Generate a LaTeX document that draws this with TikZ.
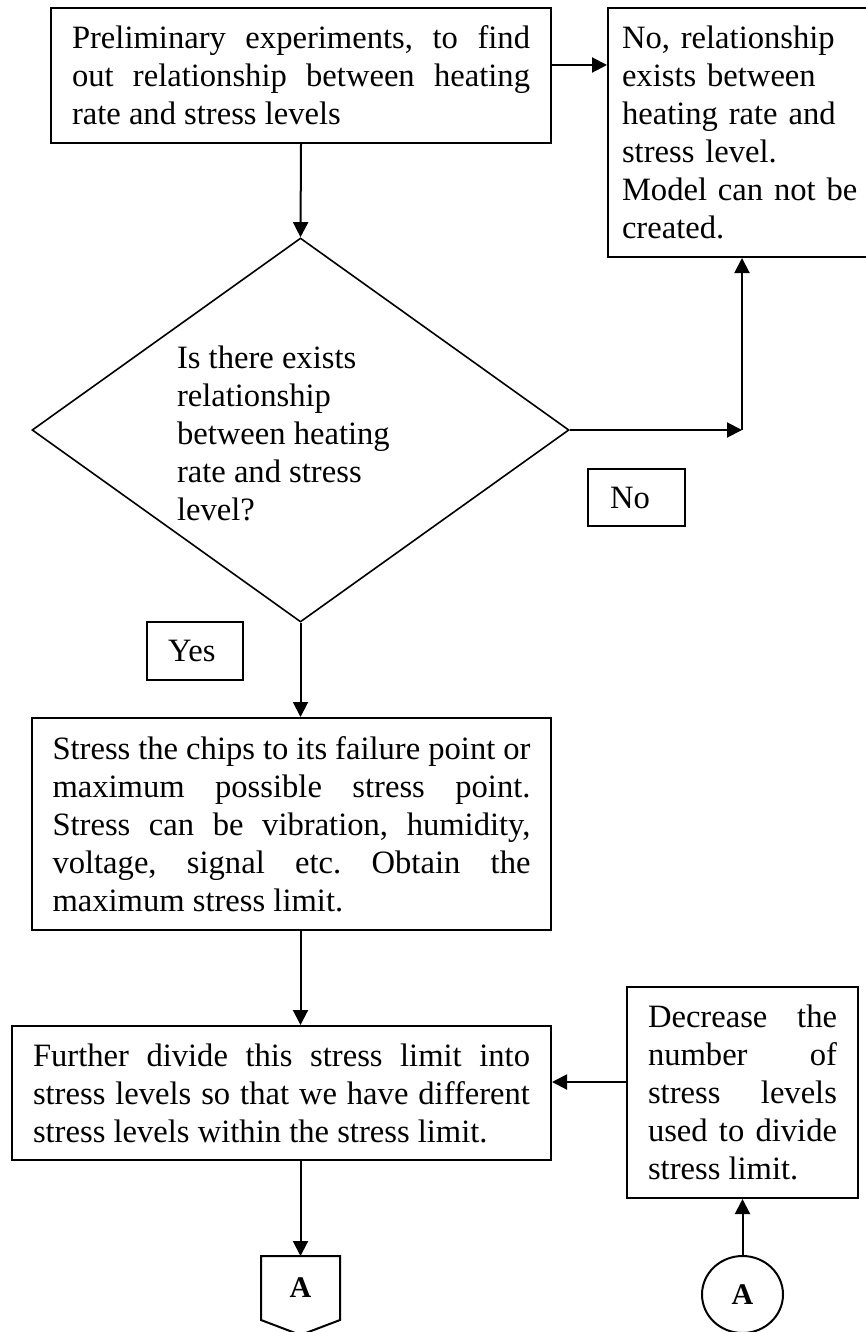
\documentclass[tikz,border=0pt]{standalone}
\usepackage{fontspec}
\setmainfont{Liberation Serif}
\usetikzlibrary{arrows.meta,shapes.geometric,calc}
\frenchspacing
\newcommand\bodyfont{\fontsize{16.3}{19}\selectfont}
\newcommand\justfont{\fontsize{16.3}{19}\selectfont\tolerance=10000\relax\hyphenpenalty=10000\relax}

\begin{document}
\begin{tikzpicture}[x=0.5pt,y=-0.5pt,
  line width=1pt,
  every node/.style={font=\bodyfont},
  arr/.style={-{Triangle[length=7.5pt,width=7.5pt]}},
  procbox/.style={draw, rectangle, inner ysep=0pt, align=justify, font=\justfont},
  notebox/.style={draw, rectangle, inner ysep=0pt, align=left},
  labelbox/.style={draw, rectangle, inner ysep=0pt, align=left},
  connfont/.style={font=\fontsize{15}{17}\selectfont\bfseries}
]
\useasboundingbox (0,0) rectangle (866,1332);
\fill[white] (0,0) rectangle (866,1332);
\clip (0,0) rectangle (866,1332);

% process boxes
\node[procbox, minimum width=250pt, minimum height=67.5pt, text width=229pt, inner xsep=10.5pt]
  (b1) at (301,75.5)
  {Preliminary experiments, to find\linebreak out relationship between heating\linebreak rate and stress levels};

\node[notebox, minimum width=134pt, minimum height=124.5pt, text width=120pt, inner xsep=7pt]
  (b2) at (742,132.5)
  {No, relationship\\ exists between\\ heating rate and\\ stress level.\\ Model can not be\\ created.};

\node[procbox, minimum width=259.5pt, minimum height=106pt, text width=239pt, inner xsep=10.25pt]
  (b3) at (291.5,824)
  {Stress the chips to its failure point or\linebreak maximum possible stress point.\linebreak Stress can be vibration, humidity,\linebreak voltage, signal etc. Obtain the\linebreak maximum stress limit.};

\node[procbox, minimum width=269.5pt, minimum height=67pt, text width=248.5pt, inner xsep=10.5pt]
  (b4) at (281.5,1093)
  {Further divide this stress limit into\linebreak stress levels so that we have different\linebreak stress levels within the stress limit.};

\node[procbox, minimum width=115.5pt, minimum height=105.5pt, text width=94.5pt, inner xsep=10.5pt]
  (b5) at (742.5,1092.5)
  {Decrease the\linebreak number of\linebreak stress levels\linebreak used to divide\linebreak stress limit.};

% decision
\node[draw, diamond, minimum width=268.5pt, minimum height=192pt, inner sep=0pt, line width=0.8pt]
  (dia) at (300.5,430) {};
\node[anchor=west, align=left, inner sep=0pt] (qtext) at (176,433.5)
  {Is there exists\\ relationship\\ between heating\\ rate and stress\\ level?};

% branch labels
\node[labelbox, minimum height=29pt, text width=27pt, inner xsep=10.5pt] (yes) at (195,651) {Yes};
\node[labelbox, minimum height=28.5pt, text width=26.5pt, inner xsep=11pt] (no) at (636.5,497.5) {No};

% connectors A
\node[connfont, minimum width=38.5pt, minimum height=31pt, inner sep=0pt] (offA) at (300.5,1288) {A};
\draw (offA.north west) -- (offA.north east) -- (offA.south east)
  -- ($(offA.south)+(0,15)$) -- (offA.south west) -- cycle;
\node[connfont, draw, ellipse, minimum width=40.5pt, minimum height=38.5pt, inner sep=0pt]
  (circA) at (742.5,1294.5) {A};

% flow lines
\coordinate (a1) at ([yshift=5.25pt]b1.east);
\draw[arr] (a1) -- (a1 -| b2.west);
\draw[arr] (b1.south) -- (dia.north);
\coordinate (crn) at (b2.south |- dia.east);
\draw[arr] (dia.east) -- (crn);
\draw[arr] (crn) -- (b2.south);
\draw[arr] (dia.south) -- (dia.south |- b3.north);
\draw[arr] (dia.south |- b3.south) -- (dia.south |- b4.north);
\draw[arr] (dia.south |- b4.south) -- (offA.north);
\coordinate (a5) at ([yshift=5.25pt]b5.west);
\draw[arr] (a5) -- (a5 -| b4.east);
\draw[arr] (circA.north) -- (b5.south);
\end{tikzpicture}
\end{document}
